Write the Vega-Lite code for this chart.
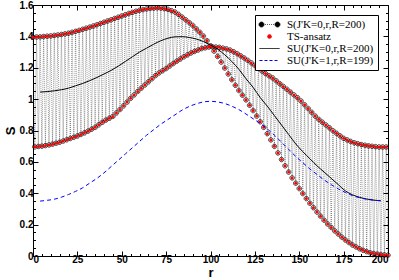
{
"$schema": "https://vega.github.io/schema/vega-lite/v6.json",
"width": 355, "height": 251,
"autosize": {"type": "none"},
"padding": {"left": 33, "top": 5, "right": 11, "bottom": 24},
"background": "white",
"config": {
 "view": {"stroke": "black", "strokeWidth": 1},
 "axis": {"grid": false, "domainColor": "black", "tickColor": "black", "labelColor": "black", "titleColor": "black", "labelFont": "Liberation Sans", "labelFontWeight": "bold", "labelFontSize": 10, "titleFont": "Liberation Sans", "titleFontWeight": "bold", "titleFontSize": 13, "tickWidth": 1, "domainWidth": 1}
},
"datasets": {
 "curve": [
{"r":0,"S":1.395},{"r":1,"S":0.696},{"r":2,"S":1.396},{"r":3,"S":0.698},{"r":4,"S":1.397},{"r":5,"S":0.70},{"r":6,"S":1.399},{"r":7,"S":0.704},{"r":8,"S":1.401},{"r":9,"S":0.708},
{"r":10,"S":1.403},{"r":11,"S":0.713},{"r":12,"S":1.406},{"r":13,"S":0.719},{"r":14,"S":1.409},{"r":15,"S":0.725},{"r":16,"S":1.412},{"r":17,"S":0.733},{"r":18,"S":1.416},{"r":19,"S":0.741},
{"r":20,"S":1.42},{"r":21,"S":0.749},{"r":22,"S":1.426},{"r":23,"S":0.757},{"r":24,"S":1.432},{"r":25,"S":0.765},{"r":26,"S":1.438},{"r":27,"S":0.775},{"r":28,"S":1.445},{"r":29,"S":0.785},
{"r":30,"S":1.452},{"r":31,"S":0.796},{"r":32,"S":1.459},{"r":33,"S":0.808},{"r":34,"S":1.466},{"r":35,"S":0.82},{"r":36,"S":1.474},{"r":37,"S":0.836},{"r":38,"S":1.482},{"r":39,"S":0.852},
{"r":40,"S":1.49},{"r":41,"S":0.866},{"r":42,"S":1.498},{"r":43,"S":0.878},{"r":44,"S":1.506},{"r":45,"S":0.89},{"r":46,"S":1.514},{"r":47,"S":0.912},{"r":48,"S":1.522},{"r":49,"S":0.934},
{"r":50,"S":1.53},{"r":51,"S":0.957},{"r":52,"S":1.538},{"r":53,"S":0.981},{"r":54,"S":1.546},{"r":55,"S":1.005},{"r":56,"S":1.553},{"r":57,"S":1.027},{"r":58,"S":1.56},{"r":59,"S":1.049},
{"r":60,"S":1.566},{"r":61,"S":1.07},{"r":62,"S":1.571},{"r":63,"S":1.09},{"r":64,"S":1.575},{"r":65,"S":1.11},{"r":66,"S":1.578},{"r":67,"S":1.13},{"r":68,"S":1.58},{"r":69,"S":1.15},
{"r":70,"S":1.582},{"r":71,"S":1.167},{"r":72,"S":1.58},{"r":73,"S":1.181},{"r":74,"S":1.577},{"r":75,"S":1.195},{"r":76,"S":1.572},{"r":77,"S":1.211},{"r":78,"S":1.564},{"r":79,"S":1.227},
{"r":80,"S":1.555},{"r":81,"S":1.242},{"r":82,"S":1.54},{"r":83,"S":1.256},{"r":84,"S":1.523},{"r":85,"S":1.27},{"r":86,"S":1.506},{"r":87,"S":1.282},{"r":88,"S":1.488},{"r":89,"S":1.294},
{"r":90,"S":1.47},{"r":91,"S":1.304},{"r":92,"S":1.448},{"r":93,"S":1.313},{"r":94,"S":1.426},{"r":95,"S":1.322},{"r":96,"S":1.402},{"r":97,"S":1.327},{"r":98,"S":1.373},{"r":99,"S":1.332},
{"r":100,"S":1.34},{"r":101,"S":1.334},{"r":102,"S":1.306},{"r":103,"S":1.332},{"r":104,"S":1.272},{"r":105,"S":1.33},{"r":106,"S":1.236},{"r":107,"S":1.325},{"r":108,"S":1.198},{"r":109,"S":1.32},
{"r":110,"S":1.16},{"r":111,"S":1.313},{"r":112,"S":1.124},{"r":113,"S":1.302},{"r":114,"S":1.088},{"r":115,"S":1.29},{"r":116,"S":1.055},{"r":117,"S":1.276},{"r":118,"S":1.025},{"r":119,"S":1.262},
{"r":120,"S":0.995},{"r":121,"S":1.247},{"r":122,"S":0.961},{"r":123,"S":1.231},{"r":124,"S":0.927},{"r":125,"S":1.215},{"r":126,"S":0.892},{"r":127,"S":1.197},{"r":128,"S":0.856},{"r":129,"S":1.179},
{"r":130,"S":0.82},{"r":131,"S":1.163},{"r":132,"S":0.78},{"r":133,"S":1.149},{"r":134,"S":0.74},{"r":135,"S":1.135},{"r":136,"S":0.699},{"r":137,"S":1.117},{"r":138,"S":0.657},{"r":139,"S":1.099},
{"r":140,"S":0.615},{"r":141,"S":1.081},{"r":142,"S":0.575},{"r":143,"S":1.063},{"r":144,"S":0.535},{"r":145,"S":1.045},{"r":146,"S":0.498},{"r":147,"S":1.027},{"r":148,"S":0.464},{"r":149,"S":1.009},
{"r":150,"S":0.43},{"r":151,"S":0.988},{"r":152,"S":0.398},{"r":153,"S":0.964},{"r":154,"S":0.366},{"r":155,"S":0.94},{"r":156,"S":0.336},{"r":157,"S":0.916},{"r":158,"S":0.308},{"r":159,"S":0.892},
{"r":160,"S":0.28},{"r":161,"S":0.871},{"r":162,"S":0.254},{"r":163,"S":0.853},{"r":164,"S":0.228},{"r":165,"S":0.835},{"r":166,"S":0.204},{"r":167,"S":0.817},{"r":168,"S":0.182},{"r":169,"S":0.799},
{"r":170,"S":0.16},{"r":171,"S":0.782},{"r":172,"S":0.14},{"r":173,"S":0.766},{"r":174,"S":0.12},{"r":175,"S":0.75},{"r":176,"S":0.102},{"r":177,"S":0.74},{"r":178,"S":0.086},{"r":179,"S":0.73},
{"r":180,"S":0.07},{"r":181,"S":0.722},{"r":182,"S":0.058},{"r":183,"S":0.716},{"r":184,"S":0.046},{"r":185,"S":0.71},{"r":186,"S":0.036},{"r":187,"S":0.706},{"r":188,"S":0.028},{"r":189,"S":0.702},
{"r":190,"S":0.02},{"r":191,"S":0.699},{"r":192,"S":0.016},{"r":193,"S":0.697},{"r":194,"S":0.012},{"r":195,"S":0.695},{"r":196,"S":0.009},{"r":197,"S":0.695},{"r":198,"S":0.007},{"r":199,"S":0.695},
{"r":200,"S":0.005}
 ],
 "su0": [
{"r":4,"SU":1.045},{"r":8,"SU":1.048},{"r":12,"SU":1.053},{"r":16,"SU":1.06},{"r":20,"SU":1.07},{"r":24,"SU":1.085},{"r":28,"SU":1.1},{"r":32,"SU":1.118},{"r":36,"SU":1.138},{"r":40,"SU":1.16},
{"r":44,"SU":1.183},{"r":48,"SU":1.21},{"r":52,"SU":1.24},{"r":56,"SU":1.27},{"r":60,"SU":1.3},{"r":64,"SU":1.325},{"r":68,"SU":1.35},{"r":72,"SU":1.372},{"r":76,"SU":1.388},{"r":80,"SU":1.397},
{"r":84,"SU":1.398},{"r":88,"SU":1.393},{"r":92,"SU":1.383},{"r":96,"SU":1.367},{"r":100,"SU":1.345},{"r":104,"SU":1.318},{"r":108,"SU":1.283},{"r":112,"SU":1.24},{"r":116,"SU":1.19},{"r":120,"SU":1.13},
{"r":124,"SU":1.075},{"r":128,"SU":1.01},{"r":132,"SU":0.955},{"r":136,"SU":0.895},{"r":140,"SU":0.835},{"r":144,"SU":0.775},{"r":148,"SU":0.715},{"r":152,"SU":0.665},{"r":156,"SU":0.62},{"r":160,"SU":0.575},
{"r":164,"SU":0.535},{"r":168,"SU":0.495},{"r":172,"SU":0.455},{"r":176,"SU":0.415},{"r":180,"SU":0.39},{"r":184,"SU":0.374},{"r":188,"SU":0.363},{"r":192,"SU":0.356},{"r":196,"SU":0.352}
 ],
 "su1": [
{"r":4,"SU":0.35},{"r":8,"SU":0.355},{"r":12,"SU":0.362},{"r":16,"SU":0.375},{"r":20,"SU":0.392},{"r":24,"SU":0.412},{"r":28,"SU":0.435},{"r":32,"SU":0.465},{"r":36,"SU":0.495},{"r":40,"SU":0.53},
{"r":44,"SU":0.57},{"r":48,"SU":0.61},{"r":52,"SU":0.65},{"r":56,"SU":0.69},{"r":60,"SU":0.73},{"r":64,"SU":0.77},{"r":68,"SU":0.805},{"r":72,"SU":0.84},{"r":76,"SU":0.87},{"r":80,"SU":0.9},
{"r":84,"SU":0.93},{"r":88,"SU":0.953},{"r":92,"SU":0.97},{"r":96,"SU":0.982},{"r":100,"SU":0.986},{"r":104,"SU":0.982},{"r":108,"SU":0.972},{"r":112,"SU":0.955},{"r":116,"SU":0.933},{"r":120,"SU":0.905},
{"r":124,"SU":0.875},{"r":128,"SU":0.845},{"r":132,"SU":0.81},{"r":136,"SU":0.77},{"r":140,"SU":0.725},{"r":144,"SU":0.68},{"r":148,"SU":0.635},{"r":152,"SU":0.595},{"r":156,"SU":0.555},{"r":160,"SU":0.52},
{"r":164,"SU":0.485},{"r":168,"SU":0.455},{"r":172,"SU":0.428},{"r":176,"SU":0.405},{"r":180,"SU":0.385},{"r":184,"SU":0.372},{"r":188,"SU":0.362},{"r":192,"SU":0.356},{"r":196,"SU":0.352}
 ]
},
"layer": [
 {
  "data": {"name": "curve"},
  "mark": {"type": "line", "strokeWidth": 0.4, "strokeDash": [1, 1], "point": {"filled": false, "size": 20, "strokeWidth": 0.8, "opacity": 1, "strokeDash": [1, 0]}},
  "encoding": {
   "x": {"field": "r", "type": "quantitative", "scale": {"domain": [0, 200], "nice": false}, "axis": {"orient": "bottom", "values": [0,25,50,75,100,125,150,175,200], "tickSize": -5, "labelPadding": 3, "title": "r", "titlePadding": 2, "format": "d"}},
   "y": {"field": "S", "type": "quantitative", "scale": {"domain": [0, 1.6], "nice": false}, "axis": {"orient": "left", "values": [0,0.2,0.4,0.6,0.8,1,1.2,1.4,1.6], "tickSize": -5, "labelPadding": 5, "title": "S", "titlePadding": 2, "format": "~g"}},
   "color": {"datum": "S(J'K=0,r,R=200)", "scale": {"domain": ["S(J'K=0,r,R=200)", "TS-ansatz", "SU(J'K=0,r,R=200)", "SU(J'K=1,r,R=199)"], "range": ["black", "#ff0000", "black", "#0000ff"]},
    "legend": {"title": null, "orient": "top-right", "offset": 10, "strokeColor": "black", "fillColor": "white", "padding": 4, "rowPadding": 0, "symbolSize": 100, "symbolOffset": 5, "labelOffset": 12, "labelFont": "Liberation Serif", "labelFontSize": 11, "labelColor": "black",
     "encode": {"symbols": {"update": {
      "shape": {"signal": "datum.index === 0 ? 'M-1.1,0A0.5,0.5 0 1,1 -2.1,0A0.5,0.5 0 1,1 -1.1,0M2.1,0A0.5,0.5 0 1,1 1.1,0A0.5,0.5 0 1,1 2.1,0M-0.88,0H-0.72M-0.48,0H-0.32M-0.08,0H0.08M0.32,0H0.48M0.72,0H0.88' : datum.index === 1 ? 'circle' : 'M-2,0H2'"},
      "size": {"signal": "datum.index === 1 ? 14 : 100"},
      "fill": {"signal": "datum.index === 1 ? '#ff0000' : 'transparent'"},
      "stroke": {"signal": "datum.index === 1 ? 'transparent' : datum.index === 3 ? '#0000ff' : 'black'"},
      "strokeDash": {"signal": "datum.index === 3 ? [3, 2] : [1, 0]"},
      "strokeWidth": {"signal": "datum.index === 0 ? 0.8 : 1"},
      "opacity": {"value": 1}
     }}}
    }
   }
  }
 },
 {
  "data": {"name": "curve"},
  "mark": {"type": "point", "filled": true, "size": 9, "opacity": 1},
  "encoding": {
   "x": {"field": "r", "type": "quantitative", "scale": {"domain": [0, 200], "nice": false}, "axis": {"orient": "bottom", "values": [5,10,15,20,30,35,40,45,55,60,65,70,80,85,90,95,105,110,115,120,130,135,140,145,155,160,165,170,180,185,190,195], "tickSize": -2.5, "labels": false, "domain": false, "title": null}},
   "y": {"field": "S", "type": "quantitative", "scale": {"domain": [0, 1.6], "nice": false}, "axis": {"orient": "left", "values": [0.05,0.1,0.15,0.25,0.3,0.35,0.45,0.5,0.55,0.65,0.7,0.75,0.85,0.9,0.95,1.05,1.1,1.15,1.25,1.3,1.35,1.45,1.5,1.55], "tickSize": -2.5, "labels": false, "domain": false, "title": null}},
   "color": {"datum": "TS-ansatz"}
  }
 },
 {
  "data": {"name": "su0"},
  "mark": {"type": "line", "strokeWidth": 1, "interpolate": "monotone"},
  "encoding": {
   "x": {"field": "r", "type": "quantitative", "scale": {"domain": [0, 200], "nice": false}, "axis": {"orient": "top", "values": [0,25,50,75,100,125,150,175,200], "tickSize": -5, "labels": false, "domain": false, "title": null}},
   "y": {"field": "SU", "type": "quantitative", "scale": {"domain": [0, 1.6], "nice": false}, "axis": {"orient": "right", "values": [0,0.2,0.4,0.6,0.8,1,1.2,1.4,1.6], "tickSize": -5, "labels": false, "domain": false, "title": null}},
   "color": {"datum": "SU(J'K=0,r,R=200)"}
  }
 },
 {
  "data": {"name": "su1"},
  "mark": {"type": "line", "strokeWidth": 1, "strokeDash": [4, 3], "interpolate": "monotone"},
  "encoding": {
   "x": {"field": "r", "type": "quantitative", "scale": {"domain": [0, 200], "nice": false}, "axis": {"orient": "top", "values": [5,10,15,20,30,35,40,45,55,60,65,70,80,85,90,95,105,110,115,120,130,135,140,145,155,160,165,170,180,185,190,195], "tickSize": -2.5, "labels": false, "domain": false, "title": null}},
   "y": {"field": "SU", "type": "quantitative", "scale": {"domain": [0, 1.6], "nice": false}, "axis": {"orient": "right", "values": [0.05,0.1,0.15,0.25,0.3,0.35,0.45,0.5,0.55,0.65,0.7,0.75,0.85,0.9,0.95,1.05,1.1,1.15,1.25,1.3,1.35,1.45,1.5,1.55], "tickSize": -2.5, "labels": false, "domain": false, "title": null}},
   "color": {"datum": "SU(J'K=1,r,R=199)"}
  }
 }
],
"resolve": {"axis": {"x": "independent", "y": "independent"}}
}
